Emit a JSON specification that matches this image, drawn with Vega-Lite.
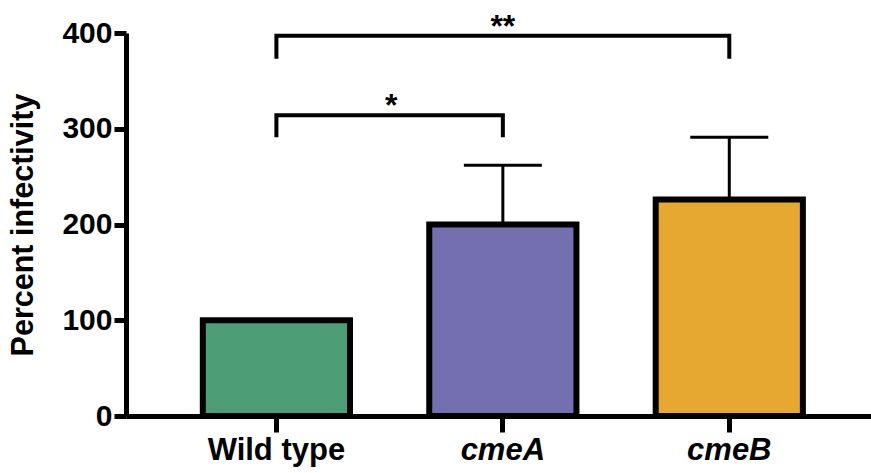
{
  "$schema": "https://vega.github.io/schema/vega-lite/v6.json",
  "width": 745,
  "height": 383,
  "autosize": {"type": "none"},
  "padding": {"left": 126, "top": 33, "right": 0, "bottom": 57},
  "background": "white",
  "config": {
    "view": {"stroke": null},
    "font": "Liberation Sans",
    "axis": {
      "domainColor": "black",
      "domainWidth": 5,
      "tickColor": "black",
      "tickWidth": 5,
      "grid": false,
      "labelColor": "black",
      "labelFont": "Liberation Sans",
      "labelFontWeight": "bold",
      "labelFontSize": 30,
      "titleColor": "black",
      "titleFont": "Liberation Sans",
      "titleFontWeight": "bold",
      "titleFontSize": 30.5
    }
  },
  "datasets": {
    "bars": [
      {"strain": "Wild type", "mean": 100},
      {"strain": "cmeA", "mean": 200},
      {"strain": "cmeB", "mean": 226}
    ],
    "errors": [
      {"strain": "cmeA", "mean": 200, "upper": 262},
      {"strain": "cmeB", "mean": 226, "upper": 291}
    ],
    "brackets": [
      {"pair": "double", "strain": "Wild type", "y": 373, "ord": 1},
      {"pair": "double", "strain": "Wild type", "y": 397, "ord": 2},
      {"pair": "double", "strain": "cmeB", "y": 397, "ord": 3},
      {"pair": "double", "strain": "cmeB", "y": 373, "ord": 4},
      {"pair": "single", "strain": "Wild type", "y": 291, "ord": 1},
      {"pair": "single", "strain": "Wild type", "y": 314, "ord": 2},
      {"pair": "single", "strain": "cmeA", "y": 314, "ord": 3},
      {"pair": "single", "strain": "cmeA", "y": 291, "ord": 4}
    ],
    "star2": [{"strain": "cmeA", "y": 397, "label": "**"}],
    "star1": [{"strain": "Wild type", "y": 314, "label": "*"}]
  },
  "layer": [
    {
      "data": {"name": "bars"},
      "mark": {"type": "bar", "stroke": "black", "strokeWidth": 6, "strokeJoin": "miter"},
      "encoding": {
        "x": {
          "field": "strain",
          "type": "nominal",
          "sort": ["Wild type", "cmeA", "cmeB"],
          "scale": {"domain": ["Wild type", "cmeA", "cmeB"], "paddingInner": 0.35, "paddingOuter": 0.32, "align": 0.53},
          "axis": {
            "title": null,
            "labelAngle": 0,
            "tickSize": 16,
            "labelPadding": 3,
            "labelFontSize": 31,
            "labelFontStyle": {"condition": {"test": "datum.value !== 'Wild type'", "value": "italic"}, "value": "normal"}
          }
        },
        "y": {
          "field": "mean",
          "type": "quantitative",
          "scale": {"domain": [0, 400], "nice": false},
          "axis": {"title": "Percent infectivity", "values": [0, 100, 200, 300, 400], "tickSize": 12, "labelPadding": 2, "titlePadding": 23}
        },
        "color": {
          "field": "strain",
          "type": "nominal",
          "scale": {"domain": ["Wild type", "cmeA", "cmeB"], "range": ["#4D9E77", "#7470B0", "#E6A830"]},
          "legend": null
        }
      }
    },
    {
      "data": {"name": "errors"},
      "mark": {"type": "rule", "color": "black", "strokeWidth": 3},
      "encoding": {
        "x": {"field": "strain", "type": "nominal"},
        "y": {"field": "mean", "type": "quantitative"},
        "y2": {"field": "upper"}
      }
    },
    {
      "data": {"name": "errors"},
      "mark": {"type": "tick", "color": "black", "thickness": 3, "size": 78, "opacity": 1},
      "encoding": {
        "x": {"field": "strain", "type": "nominal"},
        "y": {"field": "upper", "type": "quantitative"}
      }
    },
    {
      "data": {"name": "brackets"},
      "mark": {"type": "line", "color": "black", "strokeWidth": 4, "strokeJoin": "miter", "strokeCap": "butt"},
      "encoding": {
        "x": {"field": "strain", "type": "nominal"},
        "y": {"field": "y", "type": "quantitative"},
        "detail": {"field": "pair"},
        "order": {"field": "ord", "type": "quantitative"}
      }
    },
    {
      "data": {"name": "star2"},
      "mark": {"type": "text", "fontSize": 32, "fontWeight": "bold", "color": "black", "baseline": "alphabetic", "align": "center", "dy": 1},
      "encoding": {
        "x": {"field": "strain", "type": "nominal"},
        "y": {"field": "y", "type": "quantitative"},
        "text": {"field": "label"}
      }
    },
    {
      "data": {"name": "star1"},
      "mark": {"type": "text", "fontSize": 32, "fontWeight": "bold", "color": "black", "baseline": "alphabetic", "align": "center", "dy": 1},
      "encoding": {
        "x": {"field": "strain", "type": "nominal", "bandPosition": 1.28},
        "y": {"field": "y", "type": "quantitative"},
        "text": {"field": "label"}
      }
    }
  ]
}
